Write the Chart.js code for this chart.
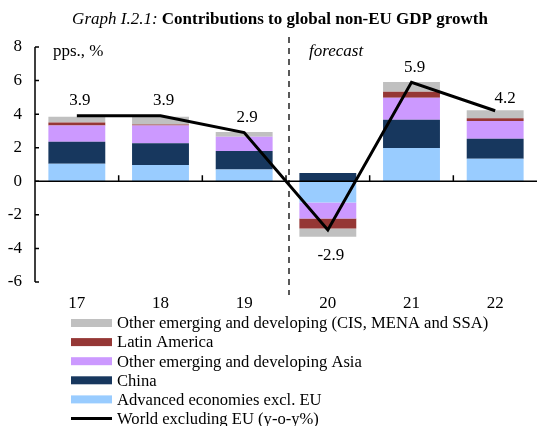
<!DOCTYPE html>
<html>
<head>
<meta charset="utf-8">
<script src="https://cdn.jsdelivr.net/npm/chart.js@4"></script>
<style>
  html, body { margin: 0; padding: 0; background: #fff; }
  #wrap { width: 537px; height: 426px; }
</style>
</head>
<body>
<div id="wrap"><canvas id="chart" width="537" height="426"></canvas></div>
<script>
const years = ['17', '18', '19', '20', '21', '22'];

const advanced = [1.05, 0.97, 0.70, -1.27, 1.99, 1.35];
const china = [1.31, 1.29, 1.11, 0.50, 1.68, 1.19];
const otherAsia = [0.96, 1.06, 0.85, -0.95, 1.31, 1.05];
const latinAmerica = [0.18, 0.06, 0.00, -0.60, 0.36, 0.16];
const otherEmerging = [0.34, 0.46, 0.28, -0.49, 0.58, 0.48];
const worldExEU = [3.9, 3.9, 2.9, -2.9, 5.9, 4.2];

const yTicks = { min: -6, max: 8, step: 2 };
const forecastFrom = 3; // index of first forecast year

const serif = "'Liberation Serif', 'Times New Roman', serif";

// legend rows, top to bottom
const legendOrder = [4, 3, 2, 1, 0, 5];

const decor = {
    id: 'decor',
    afterDatasetsDraw(chart) {
        const ctx = chart.ctx;
        const area = chart.chartArea;
        const x = chart.scales.x;
        const y = chart.scales.y;
        const y0 = y.getPixelForValue(0);

        ctx.save();
        ctx.strokeStyle = '#000';
        ctx.lineWidth = 1.5;

        // y axis + inward ticks
        ctx.beginPath();
        ctx.moveTo(area.left, y.getPixelForValue(yTicks.max));
        ctx.lineTo(area.left, y.getPixelForValue(yTicks.min));
        for (let v = yTicks.min; v <= yTicks.max; v += yTicks.step) {
            const py = y.getPixelForValue(v);
            ctx.moveTo(area.left, py);
            ctx.lineTo(area.left + 4, py);
        }
        ctx.stroke();

        // zero line + small ticks between categories
        ctx.beginPath();
        ctx.moveTo(area.left, y0);
        ctx.lineTo(area.right, y0);
        for (let i = 1; i < years.length; i++) {
            const px = x.getPixelForValue(i - 0.5);
            ctx.moveTo(px, y0);
            ctx.lineTo(px, y0 - 6);
        }
        ctx.stroke();

        // forecast divider
        const fx = x.getPixelForValue(forecastFrom - 0.5) + 3;
        ctx.lineWidth = 1.3;
        ctx.setLineDash([6, 5]);
        ctx.beginPath();
        ctx.moveTo(fx, 37);
        ctx.lineTo(fx, 295);
        ctx.stroke();
        ctx.setLineDash([]);

        // line value labels
        const meta = chart.getDatasetMeta(5);
        ctx.fillStyle = '#000';
        ctx.font = '17px ' + serif;
        ctx.textAlign = 'center';
        ctx.textBaseline = 'middle';
        meta.data.forEach((pt, i) => {
            const v = worldExEU[i];
            const last = i === meta.data.length - 1;
            ctx.fillText(v.toFixed(1), pt.x + (last ? 10 : 3), v < 0 ? pt.y + 26 : pt.y - (last ? 12 : 15));
        });

        ctx.textAlign = 'left';
        ctx.fillText('pps., %', 53, 52);
        ctx.font = 'italic 17px ' + serif;
        ctx.fillText('forecast', 309, 52);

        // title
        const t1 = 'Graph I.2.1: ';
        const t2 = 'Contributions to global non-EU GDP growth';
        ctx.font = 'italic 17px ' + serif;
        const w1 = ctx.measureText(t1).width;
        ctx.font = 'bold 17px ' + serif;
        const w2 = ctx.measureText(t2).width;
        const tx = (73 + 487) / 2 - (w1 + w2) / 2;
        ctx.font = 'italic 17px ' + serif;
        ctx.fillText(t1, tx, 20);
        ctx.font = 'bold 17px ' + serif;
        ctx.fillText(t2, tx + w1, 20);

        // legend
        ctx.font = '16.6px ' + serif;
        legendOrder.forEach((di, row) => {
            const ds = chart.data.datasets[di];
            const cy = 323 + row * 19.1;
            if (ds.type === 'line') {
                ctx.fillStyle = ds.borderColor;
                ctx.fillRect(71, cy - 1.5, 41, 3);
            } else {
                ctx.fillStyle = ds.backgroundColor;
                ctx.fillRect(71, cy - 4, 41, 8);
            }
            ctx.fillStyle = '#000';
            ctx.fillText(ds.label, 117, cy + 1);
        });
        ctx.restore();
    }
};

const bar = (label, data, color) => ({
    label: label,
    data: data,
    backgroundColor: color,
    borderWidth: 0,
    stack: 'contrib',
    order: 1,
    barPercentage: 0.68,
    categoryPercentage: 1
});

new Chart(document.getElementById('chart'), {
    type: 'bar',
    data: {
        labels: years,
        datasets: [
            bar('Advanced economies excl. EU', advanced, '#99ccff'),
            bar('China', china, '#17375e'),
            bar('Other emerging and developing Asia', otherAsia, '#cc99ff'),
            bar('Latin America', latinAmerica, '#953735'),
            bar('Other emerging and developing (CIS, MENA and SSA)', otherEmerging, '#c0c0c0'),
            {
                type: 'line',
                label: 'World excluding EU (y-o-y%)',
                data: worldExEU,
                borderColor: '#000',
                borderWidth: 3,
                pointRadius: 0,
                tension: 0,
                stack: 'world',
                order: 0
            }
        ]
    },
    options: {
        responsive: false,
        animation: false,
        layout: { padding: { top: 47, right: 0, bottom: 114, left: 0 } },
        plugins: {
            legend: { display: false },
            tooltip: { enabled: false },
            title: { display: false }
        },
        scales: {
            x: {
                stacked: true,
                offset: true,
                grid: { display: false, drawTicks: false },
                border: { display: false },
                ticks: { color: '#000', font: { family: serif, size: 17 }, padding: 11, maxRotation: 0 },
                afterFit: (s) => { s.height = 30; }
            },
            y: {
                stacked: true,
                min: yTicks.min,
                max: yTicks.max,
                grid: { display: false, drawTicks: false },
                border: { display: false },
                ticks: { stepSize: yTicks.step, color: '#000', font: { family: serif, size: 17 }, padding: 13 },
                afterFit: (s) => { s.width = 35; }
            }
        }
    },
    plugins: [decor]
});
</script>
</body>
</html>
